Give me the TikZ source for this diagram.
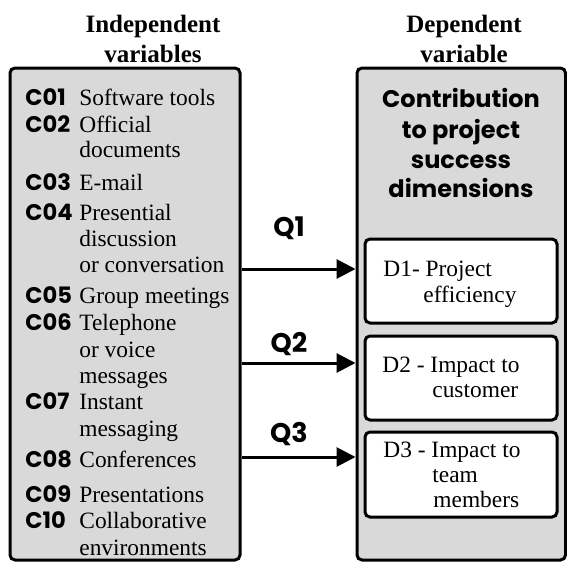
\documentclass[tikz,border=0pt]{standalone}
\usepackage{fontspec}
\setmainfont{Liberation Serif}
\newfontfamily\comicfont{Poppins}
\usetikzlibrary{arrows.meta,fit}

\tikzset{
	panel/.style={draw=black, fill=black!15, line width=1.5pt, rounded corners=2.5pt, inner sep=0pt},
	dimbox/.style={draw=black, fill=white, line width=1.5pt, rounded corners=2.5pt, inner sep=0pt},
	heading/.style={anchor=base, inner sep=0pt, font=\bfseries\fontsize{12.5}{15}\selectfont},
	codelabel/.style={anchor=base west, inner sep=0pt, font=\comicfont\bfseries\fontsize{11.3}{13}\selectfont},
	itemtext/.style={anchor=base west, inner sep=0pt, font=\fontsize{11.7}{13}\selectfont},
	dimtitle/.style={anchor=base, inner sep=0pt, font=\comicfont\bfseries\fontsize{12}{15}\selectfont},
	qlabel/.style={anchor=base, inner sep=0pt, font=\comicfont\bfseries\fontsize{13.5}{15}\selectfont},
	flow/.style={line width=1.5pt, -{Triangle[length=9.5pt, width=9.5pt]}}
}

\begin{document}
\begin{tikzpicture}[x=0.5pt, y=-0.5pt]
	\useasboundingbox (0,0) rectangle (567,563);
	% column headings
	\node[heading] (hindepA) at (153,32) {Independent};
	\node[heading] (hindepB) at (153,62) {variables};
	\node[heading] (hdepA) at (464,32) {Dependent};
	\node[heading] (hdepB) at (464,62) {variable};
	% the two panels
	\node[panel, fit={(10,68) (240,560)}] (indep) {};
	\node[panel, fit={(357,68) (565.5,560)}] (dep) {};
	% communication channels
	\foreach \n/\yb in {01/105, 02/132, 03/190, 04/220, 05/303, 06/330, 07/409, 08/467, 09/502, 10/528} {
		\node[codelabel] (c\n) at (25,\yb) {C\n};
	}
	\foreach \yb/\tx in {105/Software tools, 132/Official, 157/documents, 190/E-mail, 220/Presential,
		246/discussion, 272/or conversation, 303/Group meetings, 330/Telephone, 357/or voice,
		383/messages, 409/Instant, 436/messaging, 467/Conferences, 502/Presentations,
		528/Collaborative, 555/environments} {
		\node[itemtext] (t\yb) at (79,\yb) {\tx};
	}
	% dependent variable
	\node[dimtitle] (dimA) at (461,107) {Contribution};
	\node[dimtitle] (dimB) at (461,138) {to project};
	\node[dimtitle] (dimC) at (461,168) {success};
	\node[dimtitle] (dimD) at (461,197) {dimensions};
	\node[dimbox, fit={(365,239) (557,323)}] (d1) {};
	\node[dimbox, fit={(365,336) (557,420)}] (d2) {};
	\node[dimbox, fit={(365,432) (557,517)}] (d3) {};
	\node[itemtext] (d1a) at (383,276) {D1- Project};
	\node[itemtext] (d1b) at (423,302) {efficiency};
	\node[itemtext] (d2a) at (382,372) {D2 - Impact to};
	\node[itemtext] (d2b) at (432,397) {customer};
	\node[itemtext] (d3a) at (383,457) {D3 - Impact to};
	\node[itemtext] (d3b) at (432,482) {team};
	\node[itemtext] (d3c) at (433,507) {members};
	% research questions
	\coordinate (q1) at (0,269);
	\coordinate (q2) at (0,363);
	\coordinate (q3) at (0,457);
	\draw[flow] (indep.east |- q1) -- (dep.west |- q1);
	\draw[flow] (indep.east |- q2) -- (dep.west |- q2);
	\draw[flow] (indep.east |- q3) -- (dep.west |- q3);
	\node[qlabel] (lq1) at (289,236) {Q1};
	\node[qlabel] (lq2) at (289,352) {Q2};
	\node[qlabel] (lq3) at (289,442) {Q3};
\end{tikzpicture}
\end{document}
